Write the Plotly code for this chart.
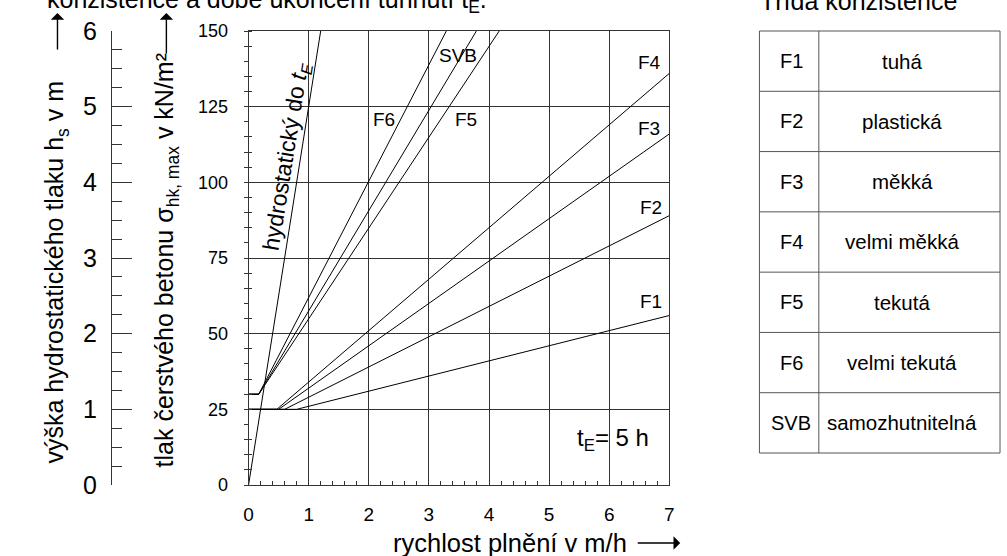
import plotly.graph_objects as go

# ---------------- data ----------------
# filling rate v [m/h] and fresh concrete pressure [kN/m2], t_E = 5 h
hydro_v = [0, 1.2]
hydro_p = [0, 150]

F1_v = [0, 0.8, 7]
F1_p = [25, 25, 56]
F2_v = [0, 0.6, 7]
F2_p = [25, 25, 89]
F3_v = [0, 0.5, 7]
F3_p = [25, 25, 116]
F4_v = [0, 0.47, 7]
F4_p = [25, 25, 136]
F5_v = [0, 0.17, 4.17]
F5_p = [30, 30, 150]
F6_v = [0, 0.17, 3.29]
F6_p = [30, 30, 150]
SVB_v = [0, 0.17, 3.79]
SVB_p = [30, 30, 150]

# curve labels (position in data units)
label_names = ["F1", "F2", "F3", "F4", "F5", "F6", "SVB"]
label_x = [6.70, 6.69, 6.67, 6.67, 3.61, 2.25, 3.49]
label_y = [60.5, 91.8, 117.9, 139.7, 120.6, 120.6, 142.0]

x_ticks = [0, 1, 2, 3, 4, 5, 6, 7]
p_ticks = [0, 25, 50, 75, 100, 125, 150]
h_ticks = [0, 1, 2, 3, 4, 5, 6]

classes = ["F1", "F2", "F3", "F4", "F5", "F6", "SVB"]
class_names = ["tuhá", "plastická", "měkká", "velmi měkká", "tekutá", "velmi tekutá", "samozhutnitelná"]

# ---------------- layout geometry (pixels) ----------------
W, H = 1007, 556
PL, PR, PT, PB = 246, 671, 31, 485
MT, MB = PT, H - PB
PH = PB - PT


def px(xp):
    return xp / W


def py(yp):
    return (PB - yp) / PH


FONT = "Liberation Sans, Arial, sans-serif"
LC = "#333333"

fig = go.Figure()

curves = [(hydro_v, hydro_p), (F1_v, F1_p), (F2_v, F2_p), (F3_v, F3_p), (F4_v, F4_p),
          (F5_v, F5_p), (F6_v, F6_p), (SVB_v, SVB_p)]
for v, p in curves:
    fig.add_trace(go.Scatter(x=v, y=p, mode="lines", line=dict(color="black", width=1),
                             showlegend=False, hoverinfo="skip"))

# invisible traces to activate the extra axes
fig.add_trace(go.Scatter(x=[None], y=[None], yaxis="y2", mode="lines", showlegend=False, hoverinfo="skip"))
fig.add_trace(go.Scatter(x=[None], y=[None], yaxis="y3", mode="lines", showlegend=False, hoverinfo="skip"))

fig.update_layout(
    width=W, height=H,
    margin=dict(l=0, r=0, t=MT, b=MB, pad=0),
    paper_bgcolor="white", plot_bgcolor="white",
    font=dict(family=FONT, color="black"),
    showlegend=False,
    xaxis=dict(
        domain=[PL / W, PR / W], range=[0, 7], tickvals=x_ticks,
        showgrid=True, gridcolor=LC, gridwidth=1, zeroline=False,
        showline=True, linecolor=LC, linewidth=1, mirror=True,
        ticks="", tickfont=dict(size=19), ticklabelstandoff=12,
        minor=dict(dtick=0.2, ticks="inside", ticklen=4, tickcolor=LC, showgrid=False),
    ),
    yaxis=dict(
        range=[0, 150], tickvals=p_ticks,
        showgrid=True, gridcolor=LC, gridwidth=1, zeroline=False,
        showline=True, linecolor=LC, linewidth=1, mirror=True,
        ticks="", tickfont=dict(size=18), ticklabelstandoff=16,
        minor=dict(dtick=5, ticks="outside", ticklen=4, tickcolor=LC, showgrid=False),
    ),
    yaxis3=dict(
        overlaying="y", anchor="x", side="left", range=[0, 150],
        showgrid=False, zeroline=False, showticklabels=False, ticks="",
        minor=dict(dtick=5, ticks="inside", ticklen=3, tickcolor=LC, showgrid=False),
    ),
    yaxis2=dict(
        overlaying="y", anchor="free", position=107 / W, side="left",
        range=[0, 6], tickvals=h_ticks,
        showgrid=False, zeroline=False,
        showline=True, linecolor=LC, linewidth=1,
        ticks="inside", ticklen=20, tickcolor=LC, tickwidth=1,
        tickfont=dict(size=25), ticklabelstandoff=9,
        minor=dict(dtick=0.25, ticks="inside", ticklen=10, tickcolor=LC, showgrid=False),
    ),
)

ann = []
# curve labels
for n, x, y in zip(label_names, label_x, label_y):
    ann.append(dict(x=x, y=y, xref="x", yref="y", text=n, showarrow=False,
                    font=dict(size=19), xanchor="center", yanchor="middle"))
ann.append(dict(x=6.06, y=14.9, xref="x", yref="y", text="t<sub>E</sub>= 5 h", showarrow=False,
                font=dict(size=24), xanchor="center", yanchor="middle"))
ann.append(dict(x=0.64, y=108.5, xref="x", yref="y", text="hydrostatický do <i>t<sub>E</sub></i>",
                showarrow=False, textangle=-80.9, font=dict(size=23), xanchor="center", yanchor="middle"))

# axis titles
ann.append(dict(x=px(52), y=py(272), xref="paper", yref="paper",
                text="výška hydrostatického tlaku h<sub>s</sub> v m", showarrow=False, textangle=-90,
                font=dict(size=25), xanchor="center", yanchor="middle"))
ann.append(dict(x=px(163), y=py(260), xref="paper", yref="paper",
                text="tlak čerstvého betonu σ<sub>hk, max</sub> v kN/m²", showarrow=False, textangle=-90,
                font=dict(size=25), xanchor="center", yanchor="middle"))
ann.append(dict(x=px(510), y=py(543), xref="paper", yref="paper",
                text="rychlost plnění v m/h", showarrow=False,
                font=dict(size=25.5), xanchor="center", yanchor="middle"))
# arrows
for hx, hy, axp, ayp in [(682, 543, -44, 0), (53, 13, 0, 38), (163, 13, 0, 42)]:
    ann.append(dict(x=px(hx), y=py(hy), xref="paper", yref="paper", text="", showarrow=True,
                    ax=axp, ay=ayp, arrowhead=1, arrowsize=1.6, arrowwidth=1.4, arrowcolor="black",
                    standoff=0, startstandoff=0))

# cut-off captions at the top
ann.append(dict(x=px(40), y=py(1), xref="paper", yref="paper",
                text="konzistence a době ukončení tuhnutí t<sub>E</sub>.", showarrow=False,
                font=dict(size=25), xanchor="left", yanchor="middle"))
ann.append(dict(x=px(862), y=py(1), xref="paper", yref="paper",
                text="Třída konzistence", showarrow=False,
                font=dict(size=25), xanchor="center", yanchor="middle"))

# table
TL, TM, TR, TT, TB = 762, 822, 1005, 31, 453
rows = len(classes)
rh = (TB - TT) / rows
shapes = []
TC = "#555555"
shapes.append(dict(type="rect", xref="paper", yref="paper", x0=px(TL), x1=px(TR), y0=py(TB), y1=py(TT),
                   line=dict(color=TC, width=1)))
shapes.append(dict(type="line", xref="paper", yref="paper", x0=px(TM), x1=px(TM), y0=py(TB), y1=py(TT),
                   line=dict(color=TC, width=1)))
for i in range(1, rows):
    yy = TT + i * rh
    shapes.append(dict(type="line", xref="paper", yref="paper", x0=px(TL), x1=px(TR), y0=py(yy), y1=py(yy),
                       line=dict(color=TC, width=1)))
for i, (c, nm) in enumerate(zip(classes, class_names)):
    yc = TT + (i + 0.5) * rh
    ann.append(dict(x=px((TL + TM) / 2 + 2), y=py(yc), xref="paper", yref="paper", text=c, showarrow=False,
                    font=dict(size=20), xanchor="center", yanchor="middle"))
    ann.append(dict(x=px(906), y=py(yc), xref="paper", yref="paper", text=nm, showarrow=False,
                    font=dict(size=20.5), xanchor="center", yanchor="middle"))

fig.update_layout(annotations=ann, shapes=shapes)
fig.write_html("out.html", config={"displayModeBar": False},
               post_script="document.body.style.margin='0';document.body.style.padding='0';"
                           "document.body.style.overflow='hidden';")
